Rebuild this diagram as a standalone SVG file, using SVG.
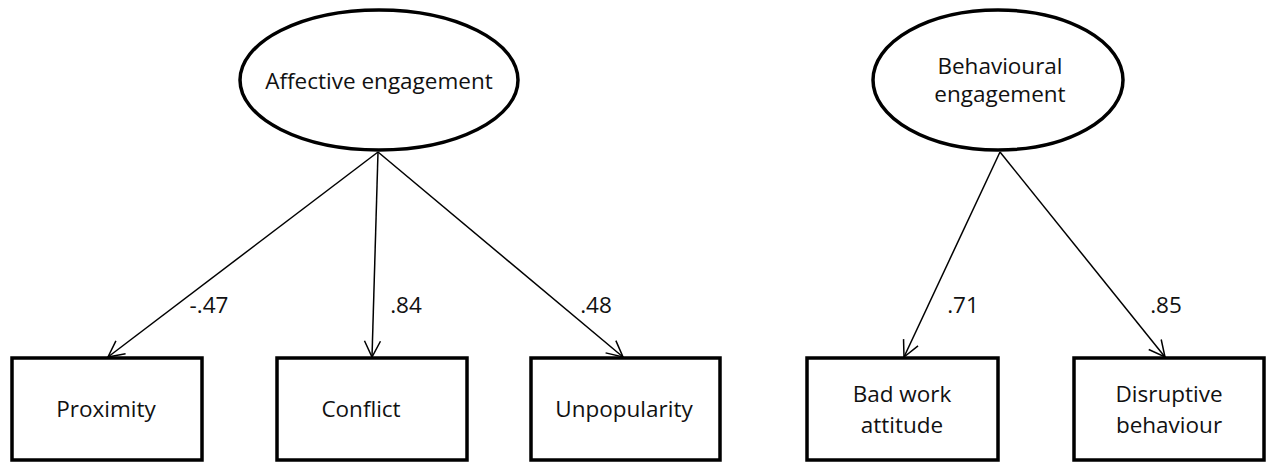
<svg xmlns="http://www.w3.org/2000/svg" width="1267" height="465" viewBox="0 0 1267 465">
<style>
.node{fill:#fff;stroke:#000;stroke-width:3.5}
.t{font-family:"Open Sans","Liberation Sans",sans-serif;font-size:22.5px;fill:#111;text-anchor:middle}
.c line{stroke:#000;stroke-width:1.5;fill:none}
</style>
<defs>
<marker id="arr" viewBox="0 0 20 20" refX="18" refY="10" markerWidth="20" markerHeight="20" markerUnits="userSpaceOnUse" orient="auto">
<path d="M2,2 L18,10 L2,18" fill="none" stroke="#000" stroke-width="1.5"/>
</marker>
</defs>
<rect width="1267" height="465" fill="#fff"/>
<g id="affective">
<ellipse class="node" cx="379" cy="80" rx="139" ry="70"/>
<text class="t" x="379" y="89">Affective engagement</text>
</g>
<g id="behavioural">
<ellipse class="node" cx="998" cy="80" rx="125" ry="70"/>
<text class="t" x="1000" y="74">Behavioural</text>
<text class="t" x="1000" y="102">engagement</text>
</g>
<g id="proximity">
<rect class="node" x="12" y="358" width="190" height="102"/>
<text class="t" x="106" y="417">Proximity</text>
</g>
<g id="conflict">
<rect class="node" x="277" y="358" width="190" height="102"/>
<text class="t" x="361" y="417">Conflict</text>
</g>
<g id="unpopularity">
<rect class="node" x="531" y="358" width="189" height="102"/>
<text class="t" x="624" y="417">Unpopularity</text>
</g>
<g id="badwork">
<rect class="node" x="807" y="358" width="191" height="102"/>
<text class="t" x="902" y="402">Bad work</text>
<text class="t" x="902" y="433">attitude</text>
</g>
<g id="disruptive">
<rect class="node" x="1074" y="358" width="190" height="102"/>
<text class="t" x="1169" y="402">Disruptive</text>
<text class="t" x="1169" y="433">behaviour</text>
</g>
<g class="c" id="connectors">
<line x1="378" y1="152" x2="108" y2="357" marker-end="url(#arr)"/>
<line x1="378" y1="152" x2="372" y2="357" marker-end="url(#arr)"/>
<line x1="378" y1="152" x2="623" y2="357" marker-end="url(#arr)"/>
<line x1="1000" y1="152" x2="904" y2="357" marker-end="url(#arr)"/>
<line x1="1000" y1="152" x2="1165" y2="357" marker-end="url(#arr)"/>
<text class="t" x="209" y="313">-.47</text>
<text class="t" x="406" y="313">.84</text>
<text class="t" x="596" y="313">.48</text>
<text class="t" x="963" y="313">.71</text>
<text class="t" x="1166" y="313">.85</text>
</g>
</svg>
